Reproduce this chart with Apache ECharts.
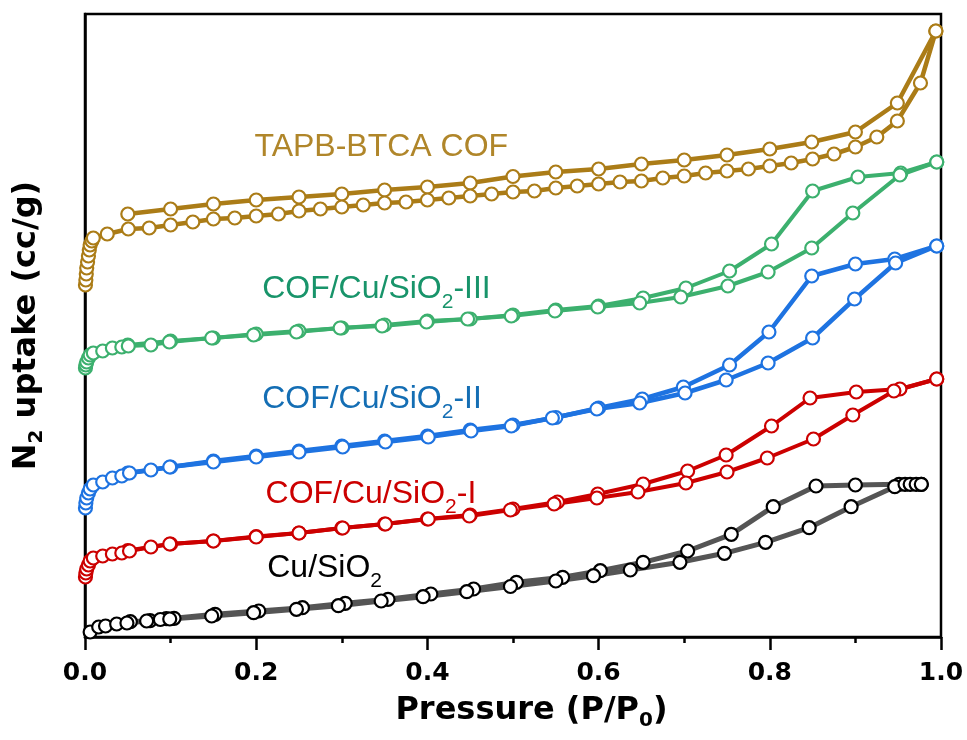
<!DOCTYPE html>
<html><head><meta charset="utf-8">
<script src="https://cdn.jsdelivr.net/npm/echarts@6/dist/echarts.min.js"></script>
<style>html,body{margin:0;padding:0;background:#fff}#c{width:967px;height:740px}</style>
</head><body><div id="c"></div>
<script>
// x ticks
const xTickValues = [0.0, 0.2, 0.4, 0.6, 0.8, 1.0];

// TAPB-BTCA COF
const tapbAdsP = [0.0005,0.001,0.0015,0.002,0.003,0.004,0.005,0.006,0.008,0.0097,0.026,0.0506,0.075,0.1,0.126,0.15,0.175,0.2,0.226,0.25,0.275,0.3,0.325,0.35,0.375,0.4,0.425,0.45,0.475,0.5,0.525,0.55,0.575,0.6,0.625,0.65,0.675,0.7,0.725,0.75,0.775,0.8,0.825,0.85,0.875,0.9,0.925,0.949,0.976,0.994];
const tapbAdsV = [352,357,363,369,375,381,387,392,396,399,403,408,409,412,415,418,419,421,423,426,428,430,432,434,435,437,439,441,443,445,446,449,451,453,455,456,459,461,464,466,468,471,474,478,483,490,500,516,554,606];
const tapbDesP = [0.994,0.949,0.9,0.849,0.8,0.75,0.7,0.65,0.6,0.55,0.5,0.45,0.4,0.35,0.3,0.25,0.2,0.15,0.1,0.05];
const tapbDesV = [606,534,505,495,488,482,477,473,468,465,460.5,454,450,447,443,440,437,433,428,423];

// COF/Cu/SiO2-III
const c3AdsP = [0.0005,0.001,0.002,0.004,0.006,0.0097,0.0207,0.032,0.043,0.0506,0.077,0.0985,0.148,0.197,0.247,0.298,0.347,0.399,0.447,0.498,0.549,0.599,0.648,0.696,0.751,0.798,0.849,0.897,0.952,0.995];
const c3AdsV = [269,272,275,279,282,284,286,289,290,291,292,295,299,302,305,309,311,315,318,321,326,330,334,340,351,365,389,424,462,475];
const c3DesP = [0.995,0.953,0.903,0.85,0.802,0.753,0.702,0.652,0.6,0.55,0.5,0.45,0.4,0.35,0.3,0.25,0.2,0.15,0.1,0.05];
const c3DesV = [475,464,460,446,393,366,349,339,331,327,322,318,316,312,309,306,303,299,296,292];

// COF/Cu/SiO2-II
const c2AdsP = [0.0005,0.001,0.002,0.004,0.006,0.0097,0.0207,0.032,0.043,0.052,0.077,0.099,0.15,0.2,0.25,0.301,0.351,0.401,0.451,0.498,0.546,0.598,0.648,0.701,0.749,0.798,0.85,0.899,0.947,0.995];
const c2AdsV = [129,134,139,144,148,152,155,159,161,164,167,170,175,180,185,190,195,200,206,211,219,228,234,244,257,274,299,338,374,391];
const c2DesP = [0.995,0.946,0.9,0.849,0.799,0.753,0.699,0.651,0.6,0.55,0.5,0.45,0.4,0.35,0.3,0.25,0.2,0.15,0.1,0.05];
const c2DesV = [391,378,373,361,305,272,250,238,229,219.5,212,207,201,196,191,186,181,176,170,164];

// COF/Cu/SiO2-I
const c1AdsP = [0.0005,0.001,0.002,0.004,0.006,0.0097,0.0207,0.032,0.043,0.052,0.077,0.099,0.15,0.2,0.25,0.301,0.351,0.401,0.449,0.497,0.548,0.598,0.646,0.702,0.75,0.797,0.851,0.897,0.945,0.995];
const c1AdsV = [60,64,68,72,76,79,81,83,84,86,90,93,96,100,104,109,113,118,121,127,133,139,145,154,165,179,198,222,246,258];
const c1DesP = [0.995,0.952,0.901,0.847,0.802,0.749,0.704,0.652,0.599,0.552,0.5,0.45,0.4,0.35,0.3,0.25,0.2,0.15,0.1,0.05];
const c1DesV = [258,248,245,239,211,182,166,153,143,135,128,122,118,113,109,104,100.5,96,93,86.5];

// Cu/SiO2
const cuAdsP = [0.006,0.016,0.024,0.037,0.049,0.072,0.088,0.099,0.148,0.197,0.247,0.296,0.346,0.395,0.446,0.497,0.55,0.594,0.637,0.695,0.747,0.795,0.846,0.895,0.946,0.958,0.964,0.971,0.977];
const cuAdsV = [5,10,11,13,14,16,17.5,18,21,24.3,27.7,31.3,36,40.3,45.3,50.5,56,61.3,67,74.7,83.7,94.7,109.3,130.3,150.3,152.7,152.7,152.7,152.7];
const cuDesP = [0.977,0.951,0.9,0.854,0.804,0.755,0.704,0.652,0.602,0.558,0.504,0.454,0.404,0.354,0.304,0.254,0.203,0.152,0.104,0.095,0.076,0.053];
const cuDesV = [152.7,152.7,152,151,130.3,102.7,86,74.7,66.3,59.7,54.7,48,43,37.7,33.7,29.3,26,22.7,18.7,18.3,16.3,15.3];

const pairs = (p, v) => p.map((x, i) => [x, v[i]]);

const samples = [
  {ads:[cuAdsP,cuAdsV], des:[cuDesP,cuDesV], line:'#555555', mk:'#000000', text:'#000000', lw:5,
   label:{p:0.2123, v:69, fmt:'{a|Cu/SiO}{s|2}'}},
  {ads:[c1AdsP,c1AdsV], des:[c1DesP,c1DesV], line:'#CC0000', mk:'#CC0000', text:'#CC0000', lw:4,
   label:{p:0.2103, v:143, fmt:'{a|COF/Cu/SiO}{s|2}{a|-I}'}},
  {ads:[c2AdsP,c2AdsV], des:[c2DesP,c2DesV], line:'#1E73E1', mk:'#1E73E1', text:'#146EB4', lw:4.5,
   label:{p:0.2064, v:238, fmt:'{a|COF/Cu/SiO}{s|2}{a|-II}'}},
  {ads:[c3AdsP,c3AdsV], des:[c3DesP,c3DesV], line:'#3CB06E', mk:'#3CB06E', text:'#18946A', lw:4,
   label:{p:0.2064, v:348, fmt:'{a|COF/Cu/SiO}{s|2}{a|-III}'}},
  {ads:[tapbAdsP,tapbAdsV], des:[tapbDesP,tapbDesV], line:'#AB7C17', mk:'#AB7C17', text:'#B0862A', lw:4.5,
   label:{p:0.1974, v:489.5, fmt:'{a|TAPB-BTCA COF}'}}
];

const series = [];
samples.forEach(s => {
  const common = {
    type:'line', symbol:'circle', symbolSize:13, showSymbol:true,
    lineStyle:{color:s.line, width:s.lw},
    itemStyle:{color:'#ffffff', borderColor:s.mk, borderWidth:2.2},
    emphasis:{disabled:true}, animation:false, z:2
  };
  series.push(Object.assign({}, common, {
    data: pairs(s.des[0], s.des[1])
  }));
  series.push(Object.assign({}, common, {
    data: pairs(s.ads[0], s.ads[1]),
    markPoint: {
      symbol:'circle', symbolSize:1, animation:false,
      itemStyle:{color:'rgba(0,0,0,0)', borderWidth:0},
      label:{show:true, position:'right', distance:0, formatter:s.label.fmt,
        rich:{
          a:{fontFamily:'Liberation Sans', fontSize:32, lineHeight:36, color:s.text},
          s:{fontFamily:'Liberation Sans', fontSize:21, lineHeight:36, color:s.text, padding:[26,0,0,0]}
        }},
      data:[{coord:[s.label.p, s.label.v]}]
    }
  }));
});

const chart = echarts.init(document.getElementById('c'), null, {renderer:'canvas'});
chart.setOption({
  animation:false,
  backgroundColor:'#ffffff',
  grid:{left:85, right:26, top:14, bottom:103, show:true, borderColor:'#000', borderWidth:2.5, containLabel:false, outerBoundsMode:'none'},
  xAxis:{
    type:'value', min:xTickValues[0], max:xTickValues[xTickValues.length-1], interval:0.2,
    axisLine:{show:true, lineStyle:{color:'#000', width:2.5}},
    axisTick:{show:true, inside:false, length:13, lineStyle:{color:'#000', width:2.5}},
    minorTick:{show:true, splitNumber:2, length:6, lineStyle:{color:'#000', width:2.5}},
    splitLine:{show:false}, minorSplitLine:{show:false},
    axisLabel:{formatter:v=>v.toFixed(1), fontFamily:'DejaVu Sans', fontWeight:'bold', fontSize:25, color:'#000', margin:24},
    name:'{t|Pressure (P/P}{s|0}{t|)}', nameLocation:'middle', nameGap:47,
    nameTextStyle:{padding:[0,0,0,37],
      rich:{
        t:{fontFamily:'DejaVu Sans', fontWeight:'bold', fontSize:32, lineHeight:32, color:'#000'},
        s:{fontFamily:'DejaVu Sans', fontWeight:'bold', fontSize:20, lineHeight:32, color:'#000', padding:[20,0,0,0]}
      }}
  },
  yAxis:{
    type:'value', min:0, max:623,
    axisLine:{show:true, lineStyle:{color:'#000', width:2.5}},
    axisTick:{show:false}, axisLabel:{show:false}, splitLine:{show:false},
    name:'{t|N}{s|2}{t| uptake (cc/g)}', nameLocation:'middle', nameGap:42,
    nameTextStyle:{
      rich:{
        t:{fontFamily:'DejaVu Sans', fontWeight:'bold', fontSize:32, lineHeight:32, color:'#000'},
        s:{fontFamily:'DejaVu Sans', fontWeight:'bold', fontSize:20, lineHeight:32, color:'#000', padding:[20,0,0,0]}
      }}
  },
  series: series
});
</script></body></html>
